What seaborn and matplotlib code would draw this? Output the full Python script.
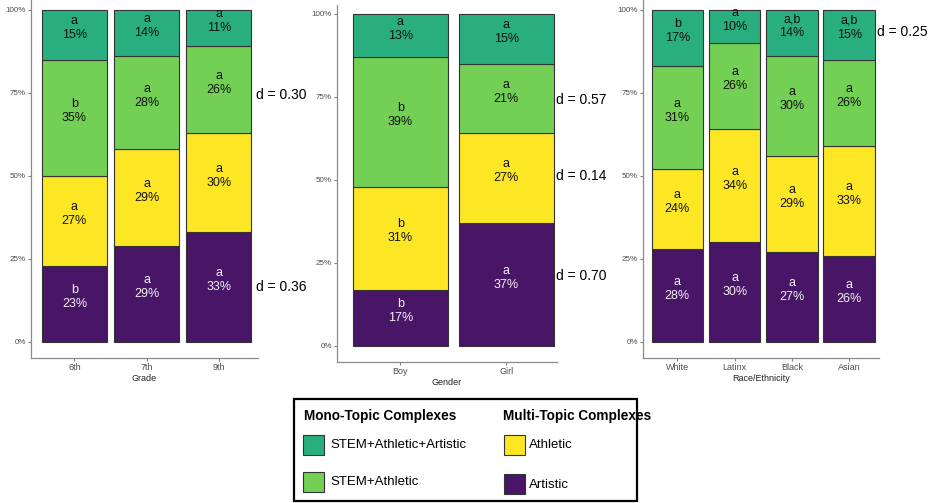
import numpy as np
import pandas as pd
import matplotlib
matplotlib.use("Agg")
import matplotlib.pyplot as plt
from matplotlib.patches import Rectangle
import seaborn as sns

# Complex types, listed top of the stack first
complexes = ["STEM+Athletic+Artistic", "STEM+Athletic", "Athletic", "Artistic"]
complex_colors = ["#29AF7F", "#73D055", "#FDE725", "#481567"]

# Grade panel
grade_groups = ["6th", "7th", "9th"]
grade_saa = [15, 14, 11]
grade_sa = [35, 28, 26]
grade_athletic = [27, 29, 30]
grade_artistic = [23, 29, 33]
grade_saa_letters = ["a", "a", "a"]
grade_sa_letters = ["b", "a", "a"]
grade_athletic_letters = ["a", "a", "a"]
grade_artistic_letters = ["b", "a", "a"]
grade_d = {"STEM+Athletic": 0.30, "Artistic": 0.36}

# Gender panel
gender_groups = ["Boy", "Girl"]
gender_saa = [13, 15]
gender_sa = [39, 21]
gender_athletic = [31, 27]
gender_artistic = [17, 37]
gender_saa_letters = ["a", "a"]
gender_sa_letters = ["b", "a"]
gender_athletic_letters = ["b", "a"]
gender_artistic_letters = ["b", "a"]
gender_d = {"STEM+Athletic": 0.57, "Athletic": 0.14, "Artistic": 0.70}

# Race/ethnicity panel
race_groups = ["White", "Latinx", "Black", "Asian"]
race_saa = [17, 10, 14, 15]
race_sa = [31, 26, 30, 26]
race_athletic = [24, 34, 29, 33]
race_artistic = [28, 30, 27, 26]
race_saa_letters = ["b", "a", "a,b", "a,b"]
race_sa_letters = ["a", "a", "a", "a"]
race_athletic_letters = ["a", "a", "a", "a"]
race_artistic_letters = ["a", "a", "a", "a"]
race_d = {"STEM+Athletic+Artistic": 0.25}

W, H = 933, 503
FONT = ["Liberation Sans", "DejaVu Sans"]

sns.set_theme(style="white")
plt.rcParams["font.family"] = FONT

fig = plt.figure(figsize=(W / 100, H / 100), dpi=100)
fig.patch.set_facecolor("white")


def px_axes(left, top, right, bottom):
    return fig.add_axes([left / W, (H - bottom) / H, (right - left) / W, (bottom - top) / H])


# vertical position of each d label within the panel (data units)
d_label_y = {
    "grade": {"STEM+Athletic": 74.4, "Artistic": 16.7},
    "gender": {"STEM+Athletic": 74.1, "Athletic": 51.3, "Artistic": 21.1},
    "race": {"STEM+Athletic+Artistic": 93.3},
}


def draw_panel(ax, key, groups, series, letters, d_values, xlabel, xlim, ylim, d_x):
    rows = []
    for comp in complexes:
        for g, v in zip(groups, series[comp]):
            rows.append((g, comp, v))
    df = pd.DataFrame(rows, columns=["group", "complex", "pct"])
    df["group"] = pd.Categorical(df["group"], categories=groups, ordered=True)

    sns.histplot(
        data=df, x="group", weights="pct", hue="complex", hue_order=complexes,
        palette=dict(zip(complexes, complex_colors)), multiple="stack",
        discrete=True, shrink=0.9, alpha=1, edgecolor="#333333", linewidth=0.8,
        legend=False, ax=ax,
    )

    # segment labels: significance letter above the percentage
    base = np.zeros(len(groups))
    for comp in reversed(complexes):
        vals = np.array(series[comp], dtype=float)
        mids = base + vals / 2
        color = "#F2F2F2" if comp == "Artistic" else "#111111"
        for i, (m, v, lt) in enumerate(zip(mids, vals, letters[comp])):
            ax.annotate(f"{int(v)}%", (i, m), ha="center", va="center",
                        fontsize=9, color=color)
            ax.annotate(lt, (i, m), xytext=(0, 10), textcoords="offset points",
                        ha="center", va="center", fontsize=9, color=color)
        base += vals

    for comp, d in d_values.items():
        ax.text(d_x, d_label_y[key][comp], f"d = {d:.2f}", ha="left", va="center",
                fontsize=10, color="black", clip_on=False)

    ax.set_xlim(*xlim)
    ax.set_ylim(*ylim)
    ax.set_yticks([0, 25, 50, 75, 100])
    ax.set_yticklabels(["0%", "25%", "50%", "75%", "100%"])
    ax.set_xticks(range(len(groups)))
    ax.set_xticklabels(groups)
    ax.set_ylabel("")
    ax.set_xlabel(xlabel, fontsize=6.5, color="#222222", labelpad=1.0)
    ax.tick_params(axis="both", which="both", labelcolor="#4D4D4D",
                   color="#7F7F7F", length=2.2, width=0.8, pad=1.5,
                   bottom=True, left=True)
    ax.tick_params(axis="y", labelsize=5.8)
    ax.tick_params(axis="x", labelsize=6.5)
    sns.despine(ax=ax)
    for s in ("left", "bottom"):
        ax.spines[s].set_color("#8A8A8A")
        ax.spines[s].set_linewidth(0.9)
    ax.set_facecolor("white")


ax1 = px_axes(31, 0, 258, 358)
draw_panel(
    ax1, "grade", grade_groups,
    {"STEM+Athletic+Artistic": grade_saa, "STEM+Athletic": grade_sa,
     "Athletic": grade_athletic, "Artistic": grade_artistic},
    {"STEM+Athletic+Artistic": grade_saa_letters, "STEM+Athletic": grade_sa_letters,
     "Athletic": grade_athletic_letters, "Artistic": grade_artistic_letters},
    grade_d, "Grade", (-0.6, 2.54), (-4.82, 103.0), 2.51,
)

ax2 = px_axes(337, 5, 557, 362)
draw_panel(
    ax2, "gender", gender_groups,
    {"STEM+Athletic+Artistic": gender_saa, "STEM+Athletic": gender_sa,
     "Athletic": gender_athletic, "Artistic": gender_artistic},
    {"STEM+Athletic+Artistic": gender_saa_letters, "STEM+Athletic": gender_sa_letters,
     "Athletic": gender_athletic_letters, "Artistic": gender_artistic_letters},
    gender_d, "Gender", (-0.6, 1.48), (-4.82, 102.7), 1.475,
)

ax3 = px_axes(643, 0, 879, 358)
draw_panel(
    ax3, "race", race_groups,
    {"STEM+Athletic+Artistic": race_saa, "STEM+Athletic": race_sa,
     "Athletic": race_athletic, "Artistic": race_artistic},
    {"STEM+Athletic+Artistic": race_saa_letters, "STEM+Athletic": race_sa_letters,
     "Athletic": race_athletic_letters, "Artistic": race_artistic_letters},
    race_d, "Race/Ethnicity", (-0.6, 3.52), (-4.82, 103.0), 3.48,
)

# Grouped legend drawn in figure pixel space
lax = fig.add_axes([0, 0, 1, 1])
lax.set_xlim(0, W)
lax.set_ylim(H, 0)
lax.axis("off")
lax.patch.set_visible(False)

lax.add_patch(Rectangle((293.5, 399), 343, 102, fill=False, edgecolor="black",
                        linewidth=1.6, clip_on=False))
lax.text(304, 416, "Mono-Topic Complexes", fontsize=9.8, fontweight="bold",
         ha="left", va="center", color="black")
lax.text(503, 416, "Multi-Topic Complexes", fontsize=9.8, fontweight="bold",
         ha="left", va="center", color="black", clip_on=False)

legend_slots = {
    "STEM+Athletic+Artistic": (303, 434.5, 330, 444.5),
    "STEM+Athletic": (303, 472, 330, 482),
    "Athletic": (503.5, 435, 529, 445),
    "Artistic": (503.5, 473.5, 529, 485),
}
for comp, color in zip(complexes, complex_colors):
    px, py, tx, ty = legend_slots[comp]
    lax.add_patch(Rectangle((px, py), 21, 20, facecolor=color, edgecolor="#333333",
                            linewidth=0.8))
    lax.text(tx, ty, comp, fontsize=9.5, ha="left", va="center", color="black")

fig.savefig("out.png", dpi=100, facecolor="white")
